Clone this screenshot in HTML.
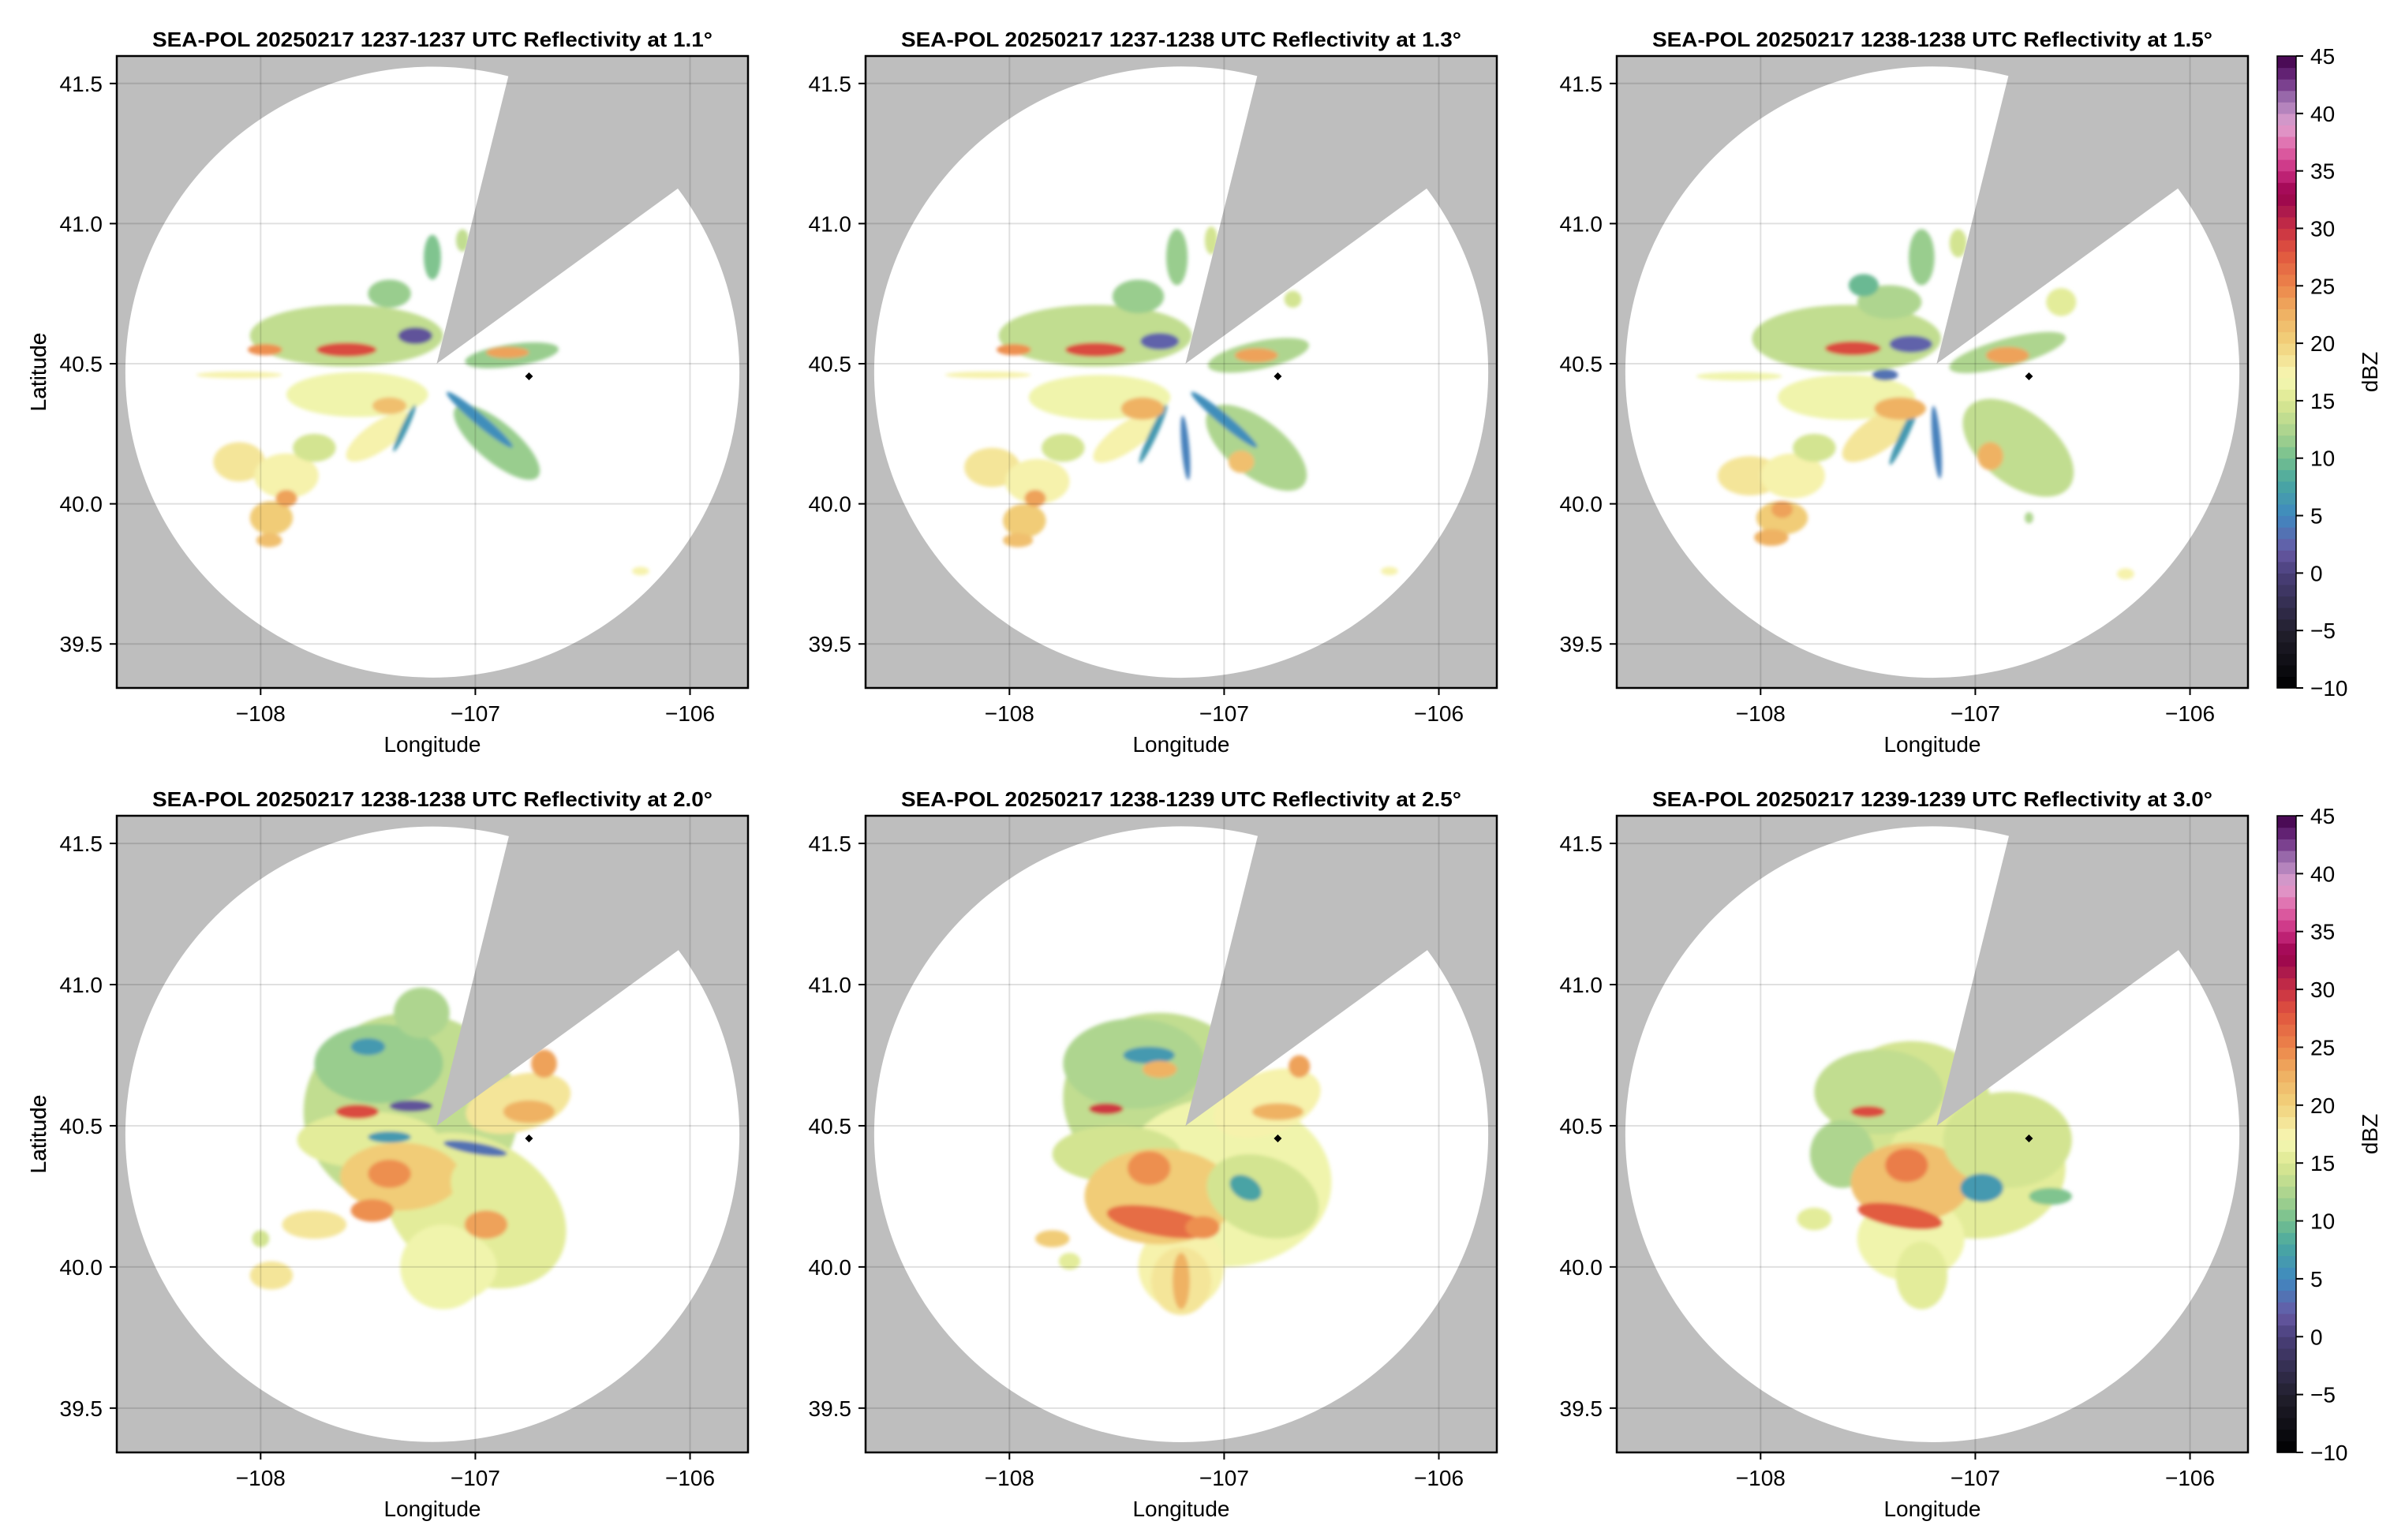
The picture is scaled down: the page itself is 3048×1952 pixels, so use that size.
<!DOCTYPE html>
<html><head><meta charset="utf-8">
<style>
html,body{margin:0;padding:0;background:#fff;}
svg{display:block;font-family:"Liberation Sans",Arial,sans-serif;}
</style></head>
<body>
<svg id="fig" width="3048" height="1952" viewBox="0 0 3048 1952" xmlns="http://www.w3.org/2000/svg">
<defs>
<filter id="soft" x="-10%" y="-10%" width="120%" height="120%"><feGaussianBlur stdDeviation="2.5"/></filter>
</defs>
</svg>
<script>
const titles = [
 "SEA-POL 20250217 1237-1237 UTC Reflectivity at 1.1°",
 "SEA-POL 20250217 1237-1238 UTC Reflectivity at 1.3°",
 "SEA-POL 20250217 1238-1238 UTC Reflectivity at 1.5°",
 "SEA-POL 20250217 1238-1238 UTC Reflectivity at 2.0°",
 "SEA-POL 20250217 1238-1239 UTC Reflectivity at 2.5°",
 "SEA-POL 20250217 1239-1239 UTC Reflectivity at 3.0°"
];
const lonTicks = [-108, -107, -106];
const latTicks = [39.5, 40.0, 40.5, 41.0, 41.5];
const cbTicks = [-10, -5, 0, 5, 10, 15, 20, 25, 30, 35, 40, 45];
const radarSite = [-107.18, 40.50];
const radarCircle = [-107.20, 40.47, 1.43, 1.09];
const blockedBearings = [14, 54];
const markerPoint = [-106.75, 40.455];
// echoes: [lon, lat, rxDeg, ryDeg, rotation, dBZ]
const echoes1 = [
 [-107.6,40.6,.45,.11,0,13],[-107.55,40.39,.33,.08,0,16],[-107.45,40.24,.18,.05,-35,17],
 [-108.1,40.15,.12,.07,0,18],[-107.88,40.1,.15,.08,0,17],[-107.95,39.95,.1,.06,0,20],
 [-107.96,39.87,.06,.025,0,21],[-107.75,40.2,.1,.05,0,14],[-108.1,40.46,.2,.012,0,17],
 [-107.4,40.75,.1,.05,0,11],[-107.2,40.88,.04,.08,0,10],[-107.06,40.94,.03,.04,0,13],
 [-107.28,40.6,.08,.03,0,1],[-106.83,40.53,.22,.04,-8,11],[-106.9,40.22,.25,.07,40,11],
 [-106.98,40.3,.2,.02,40,5],[-107.33,40.27,.12,.012,-65,6],[-106.23,39.76,.04,.015,0,17],
 [-107.6,40.55,.14,.025,0,28],[-107.98,40.55,.08,.02,0,24],[-107.4,40.35,.08,.03,0,21],
 [-106.85,40.54,.1,.02,0,23],[-107.88,40.02,.05,.03,0,23]
];
const echoes2 = [
 [-107.6,40.6,.45,.11,0,13],[-107.58,40.38,.33,.08,0,16],[-107.45,40.24,.19,.05,-35,17],
 [-108.08,40.13,.13,.07,0,18],[-107.87,40.08,.15,.08,0,17],[-107.93,39.94,.1,.06,0,20],
 [-107.96,39.87,.07,.025,0,21],[-107.75,40.2,.1,.05,0,14],[-108.1,40.46,.2,.012,0,17],
 [-107.4,40.74,.12,.06,0,11],[-107.22,40.88,.05,.1,0,11],[-107.06,40.94,.03,.05,0,14],
 [-107.3,40.58,.09,.03,0,2],[-106.84,40.53,.24,.05,-12,12],[-106.85,40.2,.28,.1,38,12],
 [-107.0,40.3,.2,.02,40,5],[-107.33,40.25,.15,.014,-65,6],[-107.18,40.2,.15,.014,85,4],
 [-106.68,40.73,.04,.03,0,14],[-106.23,39.76,.04,.015,0,17],
 [-107.6,40.55,.14,.025,0,28],[-107.98,40.55,.08,.02,0,24],[-107.38,40.34,.1,.04,0,22],
 [-106.85,40.53,.1,.025,0,23],[-106.92,40.15,.06,.04,0,21],[-107.88,40.02,.05,.03,0,23]
];
const echoes3 = [
 [-107.6,40.59,.44,.12,0,13],[-107.6,40.38,.32,.08,0,16],[-107.45,40.25,.2,.06,-35,18],
 [-108.05,40.1,.15,.07,0,18],[-107.85,40.1,.15,.08,0,17],[-107.9,39.95,.12,.06,0,20],
 [-107.95,39.88,.08,.03,0,22],[-107.75,40.2,.1,.05,0,14],[-108.1,40.455,.2,.015,0,16],
 [-107.4,40.72,.15,.06,0,12],[-107.25,40.88,.06,.1,0,11],[-107.52,40.78,.07,.04,0,9],
 [-107.08,40.93,.04,.05,0,14],[-107.3,40.57,.1,.03,0,2],[-107.42,40.46,.06,.02,0,3],
 [-106.85,40.54,.28,.05,-15,12],[-106.6,40.72,.07,.05,0,15],[-106.8,40.2,.3,.13,38,13],
 [-107.33,40.25,.16,.015,-65,6],[-107.18,40.22,.17,.015,85,4],[-106.3,39.75,.04,.02,0,17],
 [-106.75,39.95,.02,.02,0,12],
 [-107.57,40.555,.13,.025,0,28],[-107.35,40.34,.12,.04,0,22],[-106.85,40.53,.1,.03,0,23],
 [-106.93,40.17,.06,.05,0,22],[-107.9,39.98,.05,.03,0,23]
];
const echoes4 = [
 [-107.3,40.55,.5,.35,0,13],[-107.0,40.2,.45,.25,30,15],[-107.15,40.0,.2,.15,0,16],
 [-107.45,40.72,.3,.14,0,11],[-107.25,40.9,.13,.09,0,12],[-107.5,40.45,.33,.1,0,15],
 [-107.35,40.32,.28,.12,0,20],[-106.85,40.22,.3,.13,35,15],[-106.8,40.58,.25,.1,-15,18],
 [-107.1,40.0,.2,.12,0,16],[-107.95,39.97,.1,.05,0,18],[-107.75,40.15,.15,.05,0,18],
 [-108.0,40.1,.04,.03,0,14],[-107.3,40.57,.1,.02,0,1],[-107.0,40.42,.15,.02,10,3],
 [-107.4,40.46,.1,.02,0,6],[-107.5,40.78,.08,.03,0,6],
 [-107.55,40.55,.1,.025,0,28],[-107.4,40.33,.1,.05,0,24],[-107.48,40.2,.1,.04,0,24],
 [-106.95,40.15,.1,.05,0,23],[-106.68,40.72,.06,.05,0,23],[-106.75,40.55,.12,.04,0,22]
];
const echoes5 = [
 [-107.3,40.6,.45,.3,0,13],[-107.0,40.3,.5,.3,0,16],[-107.2,40.0,.2,.15,0,17],
 [-107.42,40.72,.33,.16,0,12],[-107.5,40.4,.3,.1,0,14],[-107.3,40.25,.35,.17,0,20],
 [-107.2,39.95,.14,.12,0,18],[-106.82,40.25,.27,.14,20,14],[-106.8,40.58,.26,.11,-20,17],
 [-107.8,40.1,.08,.03,0,20],[-107.72,40.02,.05,.03,0,15],[-107.35,40.75,.12,.03,0,6],
 [-106.9,40.28,.08,.04,30,7],
 [-107.55,40.56,.08,.02,0,29],[-107.3,40.7,.08,.03,0,22],[-107.35,40.35,.1,.06,0,24],
 [-107.3,40.16,.25,.05,10,26],[-107.1,40.14,.08,.04,0,24],[-107.2,39.95,.04,.1,0,22],
 [-106.65,40.71,.05,.04,0,23],[-106.75,40.55,.12,.03,0,22]
];
const echoes6 = [
 [-107.3,40.55,.38,.25,0,14],[-107.0,40.35,.42,.25,0,15],[-107.3,40.1,.25,.15,0,16],
 [-107.45,40.62,.3,.15,0,13],[-107.62,40.4,.15,.12,0,12],[-107.3,40.3,.28,.14,0,21],
 [-106.85,40.45,.3,.17,0,14],[-107.25,39.97,.12,.12,0,15],[-107.75,40.17,.08,.04,0,15],
 [-106.97,40.28,.1,.05,0,6],[-106.65,40.25,.1,.03,0,10],
 [-107.5,40.55,.08,.02,0,28],[-107.32,40.36,.1,.06,0,25],[-107.35,40.18,.2,.04,10,27]
];
const allEchoes = [echoes1, echoes2, echoes3, echoes4, echoes5, echoes6];

const NS = "http://www.w3.org/2000/svg";
const svg = document.getElementById('fig');
const LON0 = -108.67, LON1 = -105.73, LAT0 = 39.343, LAT1 = 41.598;
const colLeft = [148, 1097, 2049], W = 800;
const rowTop = [71, 1034], rowH = [801, 807];
const stops = [[-10,[0,0,0]],[-5,[34,32,46]],[0,[74,63,122]],[2,[103,90,165]],[5,[63,137,192]],
 [8,[74,168,160]],[10,[116,191,143]],[12,[165,209,142]],[15,[220,232,145]],[17,[247,248,181]],
 [20,[241,210,124]],[23,[239,171,95]],[25,[236,133,75]],[28,[224,84,62]],[30,[200,48,69]],
 [32,[164,18,78]],[33,[154,0,76]],[35,[201,44,128]],[37,[224,103,168]],[39,[224,160,207]],
 [41,[166,123,183]],[43,[109,45,130]],[45,[63,0,71]]];
function cmap(v){
  v = Math.max(-10, Math.min(45, Math.floor(v)+0.5));
  for(let i=0;i<stops.length-1;i++){
    const [a,ca]=stops[i],[b,cb]=stops[i+1];
    if(v>=a && v<=b){const t=(v-a)/(b-a);
      return 'rgb('+ca.map((c,k)=>Math.round(c+(cb[k]-c)*t)).join(',')+')';}
  }
  return 'rgb(63,0,71)';
}
function mk(tag, attrs, parent){const e=document.createElementNS(NS,tag);for(const k in attrs)e.setAttribute(k,attrs[k]);(parent||svg).appendChild(e);return e;}

for(let p=0;p<6;p++){
  const r=Math.floor(p/3), c=p%3;
  const L=colLeft[c], T=rowTop[r], H=rowH[r];
  const sx = lon => L + (lon-LON0)/(LON1-LON0)*W;
  const sy = lat => T + (LAT1-lat)/(LAT1-LAT0)*H;
  const pxLon = W/(LON1-LON0), pxLat = H/(LAT1-LAT0);
  const g = mk('g',{});
  
  
  const cp = mk('clipPath',{id:'clip'+p},g);
  mk('rect',{x:L,y:T,width:W,height:H},cp);
  const inner = mk('g',{'clip-path':'url(#clip'+p+')'},g);
  mk('rect',{x:L,y:T,width:W,height:H,fill:'#fff'},inner);
  const eg = mk('g',{filter:'url(#soft)'},inner);
  
  
  for(const e of allEchoes[p]){
    const cx=sx(e[0]), cy=sy(e[1]);
    const el = mk('ellipse',{cx:cx,cy:cy,rx:e[2]*pxLon,ry:e[3]*pxLat,transform:'rotate('+e[4]+' '+cx+' '+cy+')',fill:cmap(e[5])},eg);
    
    
  }
  const ccx=sx(radarCircle[0]), ccy=sy(radarCircle[1]), crx=radarCircle[2]*pxLon, cry=radarCircle[3]*pxLat;
  const mask = mk('path',{fill:'#bebebe','fill-rule':'evenodd',d:'M'+L+' '+T+'h'+W+'v'+H+'h'+(-W)+'Z M'+(ccx-crx)+' '+ccy+' a'+crx+' '+cry+' 0 1 0 '+(2*crx)+' 0 a'+crx+' '+cry+' 0 1 0 '+(-2*crx)+' 0Z'},inner);
  
  
  const vx=sx(radarSite[0]), vy=sy(radarSite[1]);
  const pts=[[vx,vy]];
  for(const b of blockedBearings){const a=b*Math.PI/180;pts.push([vx+1500*Math.sin(a),vy-1500*Math.cos(a)]);}
  const wedge = mk('polygon',{points:pts.map(q=>q.join(',')).join(' '),fill:'#bebebe'},inner);
  
  
  for(const t of lonTicks){const gl=mk('line',{x1:sx(t),x2:sx(t),y1:T,y2:T+H,stroke:'rgba(0,0,0,0.12)','stroke-width':2},inner);
    }
  for(const t of latTicks){const gl=mk('line',{x1:L,x2:L+W,y1:sy(t),y2:sy(t),stroke:'rgba(0,0,0,0.12)','stroke-width':2},inner);
    }
  const mx=sx(markerPoint[0]), my=sy(markerPoint[1]);
  const mrk = mk('polygon',{points:[mx,my-5,mx+5,my,mx,my+5,mx-5,my].join(' '),fill:'#000'},inner);
  
  
  const fr = mk('rect',{x:L,y:T,width:W,height:H,fill:'none',stroke:'#000','stroke-width':2.5},g);
  
  
  for(const t of lonTicks){
    mk('line',{x1:sx(t),x2:sx(t),y1:T+H,y2:T+H+9,stroke:'#000','stroke-width':2},g);
    const tx=mk('text',{x:sx(t),y:T+H+42,'font-size':28,'text-anchor':'middle'},g);
    tx.textContent=(t<0?'\u2212'+(-t):t);
    
    
  }
  for(const t of latTicks){
    mk('line',{x1:L-9,x2:L,y1:sy(t),y2:sy(t),stroke:'#000','stroke-width':2},g);
    const tx=mk('text',{x:L-18,y:sy(t)+10,'font-size':28,'text-anchor':'end'},g);
    tx.textContent=t.toFixed(1);
    
    
  }
  const ti=mk('text',{x:L+W/2,y:T-12,'font-size':26,'font-weight':'bold','text-anchor':'middle',textLength:710,lengthAdjust:'spacingAndGlyphs'},g);
  ti.textContent=titles[p];
  
  
  const xl=mk('text',{x:L+W/2,y:T+H+81,'font-size':28,'text-anchor':'middle'},g);
  xl.textContent='Longitude';
  
  
  const yl=mk('text',{x:0,y:0,'font-size':28,'text-anchor':'middle',transform:'translate(58 '+(T+H/2)+') rotate(-90)'},g);
  yl.textContent='Latitude';
  
  
}
for(let r=0;r<2;r++){
  const T=rowTop[r], H=rowH[r], X=2886, BW=24;
  const cg=mk('g',{});
  
  
  const cy = v => T + (45-v)/55*H;
  for(let v=-10; v<45; v++){
    mk('rect',{x:X,y:cy(v+1),width:BW,height:H/55+0.6,fill:cmap(v)},cg);
  }
  mk('rect',{x:X,y:T,width:BW,height:H,fill:'none',stroke:'#000','stroke-width':1.5},cg);
  for(const t of cbTicks){
    mk('line',{x1:X+BW,x2:X+BW+9,y1:cy(t),y2:cy(t),stroke:'#000','stroke-width':2},cg);
    const tx=mk('text',{x:X+BW+18,y:cy(t)+10,'font-size':28},cg);
    tx.textContent=(t<0?'\u2212'+(-t):t);
    
    
  }
  const lb=mk('text',{x:0,y:0,'font-size':28,'text-anchor':'middle',transform:'translate(3013 '+(T+H/2)+') rotate(-90)'},cg);
  lb.textContent='dBZ';
  
  
}
</script>
</body></html>
